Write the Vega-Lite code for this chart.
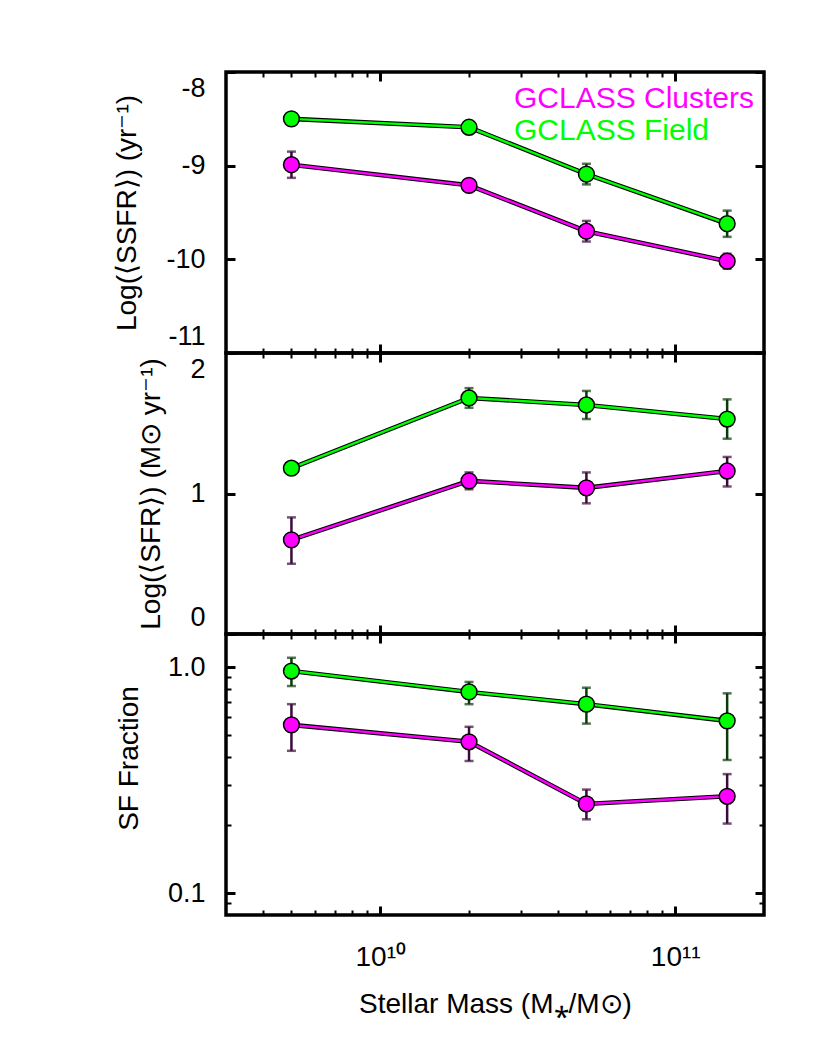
{
  "$schema": "https://vega.github.io/schema/vega-lite/v6.json",
  "padding": {"left": 112, "top": 68, "right": 5, "bottom": 5},
  "background": "white",
  "bounds": "flush",
  "datasets": {
    "pts": [
      {"panel": "ssfr", "group": "Clusters", "mass": 5e9, "value": -8.99, "lo": -9.13, "hi": -8.85},
      {"panel": "ssfr", "group": "Clusters", "mass": 2e10, "value": -9.21, "lo": -9.25, "hi": -9.17},
      {"panel": "ssfr", "group": "Clusters", "mass": 5e10, "value": -9.70, "lo": -9.81, "hi": -9.59},
      {"panel": "ssfr", "group": "Clusters", "mass": 1.5e11, "value": -10.02, "lo": -10.10, "hi": -9.94},
      {"panel": "ssfr", "group": "Field", "mass": 5e9, "value": -8.50, "lo": -8.53, "hi": -8.47},
      {"panel": "ssfr", "group": "Field", "mass": 2e10, "value": -8.59, "lo": -8.63, "hi": -8.55},
      {"panel": "ssfr", "group": "Field", "mass": 5e10, "value": -9.09, "lo": -9.20, "hi": -8.98},
      {"panel": "ssfr", "group": "Field", "mass": 1.5e11, "value": -9.62, "lo": -9.76, "hi": -9.48},
      {"panel": "sfr", "group": "Clusters", "mass": 5e9, "value": 0.67, "lo": 0.50, "hi": 0.83},
      {"panel": "sfr", "group": "Clusters", "mass": 2e10, "value": 1.09, "lo": 1.03, "hi": 1.15},
      {"panel": "sfr", "group": "Clusters", "mass": 5e10, "value": 1.04, "lo": 0.93, "hi": 1.15},
      {"panel": "sfr", "group": "Clusters", "mass": 1.5e11, "value": 1.16, "lo": 1.05, "hi": 1.26},
      {"panel": "sfr", "group": "Field", "mass": 5e9, "value": 1.18, "lo": 1.15, "hi": 1.21},
      {"panel": "sfr", "group": "Field", "mass": 2e10, "value": 1.68, "lo": 1.61, "hi": 1.75},
      {"panel": "sfr", "group": "Field", "mass": 5e10, "value": 1.63, "lo": 1.53, "hi": 1.73},
      {"panel": "sfr", "group": "Field", "mass": 1.5e11, "value": 1.53, "lo": 1.39, "hi": 1.67},
      {"panel": "frac", "group": "Clusters", "mass": 5e9, "value": 0.555, "lo": 0.426, "hi": 0.685},
      {"panel": "frac", "group": "Clusters", "mass": 2e10, "value": 0.467, "lo": 0.384, "hi": 0.544},
      {"panel": "frac", "group": "Clusters", "mass": 5e10, "value": 0.248, "lo": 0.212, "hi": 0.287},
      {"panel": "frac", "group": "Clusters", "mass": 1.5e11, "value": 0.268, "lo": 0.203, "hi": 0.336},
      {"panel": "frac", "group": "Field", "mass": 5e9, "value": 0.96, "lo": 0.824, "hi": 1.099},
      {"panel": "frac", "group": "Field", "mass": 2e10, "value": 0.776, "lo": 0.685, "hi": 0.859},
      {"panel": "frac", "group": "Field", "mass": 5e10, "value": 0.685, "lo": 0.562, "hi": 0.81},
      {"panel": "frac", "group": "Field", "mass": 1.5e11, "value": 0.578, "lo": 0.388, "hi": 0.765}
    ],
    "leg": [
      {"panel": "ssfr", "group": "Clusters", "label": "GCLASS Clusters", "mass": 2.84e10, "value": -8.38},
      {"panel": "ssfr", "group": "Field", "label": "GCLASS Field", "mass": 2.84e10, "value": -8.73}
    ]
  },
  "config": {
    "view": {"stroke": "black", "strokeWidth": 3.5},
    "font": "Liberation Sans",
    "axis": {
      "domain": false, "grid": false,
      "labelFont": "Liberation Sans", "labelFontSize": 27, "labelColor": "black",
      "titleFont": "Liberation Sans", "titleFontSize": 28, "titleFontWeight": "normal", "titleColor": "black",
      "tickColor": "black", "tickWidth": 3, "tickSize": 9, "offset": -9, "labelPadding": 21, "titlePadding": 24
    }
  },
  "spacing": 0,
  "vconcat": [
    {
      "width": 538, "height": 281,
      "data": {"name": "pts"},
      "transform": [{"filter": "datum.panel == 'ssfr'"}],
      "layer": [
        {
          "mark": {"type": "rule", "strokeWidth": 2.5},
          "encoding": {
            "x": {"field": "mass", "type": "quantitative", "scale": {"type": "log", "domain": [3e9, 2e11], "nice": false},
                  "axis": {"orient": "bottom", "values": [1e10, 1e11], "labels": false, "title": null}},
            "y": {"field": "lo", "type": "quantitative", "scale": {"domain": [-11, -8], "nice": false},
                  "axis": {"orient": "left", "values": [-11, -10, -9, -8], "labelFlush": true, "labelFlushOffset": -3, "labelExpr": "'' + datum.value", "title": "Log(⟨SSFR⟩) (yr⁻¹)"}},
            "y2": {"field": "hi"},
            "stroke": {"field": "group", "type": "nominal", "scale": {"domain": ["Clusters", "Field"], "range": ["#3a0a3a", "#0a3a0a"]}, "legend": null}
          }
        },
        {
          "mark": {"type": "tick", "orient": "horizontal", "size": 9, "thickness": 2.5},
          "encoding": {
            "x": {"field": "mass", "type": "quantitative",
                  "axis": {"orient": "bottom", "values": [4e9, 5e9, 6e9, 7e9, 8e9, 9e9, 2e10, 3e10, 4e10, 5e10, 6e10, 7e10, 8e10, 9e10], "tickSize": 5, "offset": -5, "tickWidth": 2, "labels": false, "title": null}},
            "y": {"field": "lo", "type": "quantitative", "axis": null},
            "color": {"field": "group", "type": "nominal", "scale": {"domain": ["Clusters", "Field"], "range": ["#3a0a3a", "#0a3a0a"]}, "legend": null}
          }
        },
        {
          "mark": {"type": "tick", "orient": "horizontal", "size": 9, "thickness": 2.5},
          "encoding": {
            "x": {"field": "mass", "type": "quantitative",
                  "axis": {"orient": "top", "values": [1e10, 1e11], "labels": false, "title": null}},
            "y": {"field": "hi", "type": "quantitative",
                  "axis": {"orient": "right", "values": [-11, -10, -9, -8], "labels": false, "title": null}},
            "color": {"field": "group", "type": "nominal", "scale": {"domain": ["Clusters", "Field"], "range": ["#3a0a3a", "#0a3a0a"]}, "legend": null}
          }
        },
        {
          "mark": {"type": "line", "strokeWidth": 4.6, "color": "black"},
          "encoding": {
            "x": {"field": "mass", "type": "quantitative",
                  "axis": {"orient": "top", "values": [4e9, 5e9, 6e9, 7e9, 8e9, 9e9, 2e10, 3e10, 4e10, 5e10, 6e10, 7e10, 8e10, 9e10], "tickSize": 5, "offset": -5, "tickWidth": 2, "labels": false, "title": null}},
            "y": {"field": "value", "type": "quantitative", "axis": null},
            "detail": {"field": "group"}
          }
        },
        {
          "mark": {"type": "line", "strokeWidth": 2.4},
          "encoding": {
            "x": {"field": "mass", "type": "quantitative", "axis": null},
            "y": {"field": "value", "type": "quantitative", "axis": null},
            "color": {"field": "group", "type": "nominal", "scale": {"domain": ["Clusters", "Field"], "range": ["#ff00ff", "#00ff00"]}, "legend": null}
          }
        },
        {
          "mark": {"type": "point", "shape": "circle", "filled": true, "size": 250, "stroke": "black", "strokeWidth": 1.5, "opacity": 1},
          "encoding": {
            "x": {"field": "mass", "type": "quantitative", "axis": null},
            "y": {"field": "value", "type": "quantitative", "axis": null},
            "fill": {"field": "group", "type": "nominal", "scale": {"domain": ["Clusters", "Field"], "range": ["#ff00ff", "#00ff00"]}, "legend": null}
          }
        },
        {
          "data": {"name": "leg"},
          "mark": {"type": "text", "fontSize": 30, "align": "left", "baseline": "alphabetic", "font": "Liberation Sans"},
          "encoding": {
            "x": {"field": "mass", "type": "quantitative", "axis": null},
            "y": {"field": "value", "type": "quantitative", "axis": null},
            "text": {"field": "label"},
            "fill": {"field": "group", "type": "nominal", "legend": null}
          }
        }
      ],
      "resolve": {"axis": {"x": "independent", "y": "independent"}, "scale": {"color": "independent"}}
    },
    {
      "width": 538, "height": 281,
      "data": {"name": "pts"},
      "transform": [{"filter": "datum.panel == 'sfr'"}],
      "layer": [
        {
          "mark": {"type": "rule", "strokeWidth": 2.5},
          "encoding": {
            "x": {"field": "mass", "type": "quantitative", "scale": {"type": "log", "domain": [3e9, 2e11], "nice": false},
                  "axis": {"orient": "bottom", "values": [1e10, 1e11], "labels": false, "title": null}},
            "y": {"field": "lo", "type": "quantitative", "scale": {"domain": [0, 2], "nice": false},
                  "axis": {"orient": "left", "values": [0, 1, 2], "labelFlush": true, "labelFlushOffset": -3, "labelExpr": "'' + datum.value", "title": "Log(⟨SFR⟩) (M⊙ yr⁻¹)"}},
            "y2": {"field": "hi"},
            "stroke": {"field": "group", "type": "nominal", "legend": null}
          }
        },
        {
          "mark": {"type": "tick", "orient": "horizontal", "size": 9, "thickness": 2.5},
          "encoding": {
            "x": {"field": "mass", "type": "quantitative",
                  "axis": {"orient": "bottom", "values": [4e9, 5e9, 6e9, 7e9, 8e9, 9e9, 2e10, 3e10, 4e10, 5e10, 6e10, 7e10, 8e10, 9e10], "tickSize": 5, "offset": -5, "tickWidth": 2, "labels": false, "title": null}},
            "y": {"field": "lo", "type": "quantitative", "axis": null},
            "color": {"field": "group", "type": "nominal", "scale": {"domain": ["Clusters", "Field"], "range": ["#3a0a3a", "#0a3a0a"]}, "legend": null}
          }
        },
        {
          "mark": {"type": "tick", "orient": "horizontal", "size": 9, "thickness": 2.5},
          "encoding": {
            "x": {"field": "mass", "type": "quantitative",
                  "axis": {"orient": "top", "values": [1e10, 1e11], "labels": false, "title": null}},
            "y": {"field": "hi", "type": "quantitative",
                  "axis": {"orient": "right", "values": [0, 1, 2], "labels": false, "title": null}},
            "color": {"field": "group", "type": "nominal", "scale": {"domain": ["Clusters", "Field"], "range": ["#3a0a3a", "#0a3a0a"]}, "legend": null}
          }
        },
        {
          "mark": {"type": "line", "strokeWidth": 4.6, "color": "black"},
          "encoding": {
            "x": {"field": "mass", "type": "quantitative",
                  "axis": {"orient": "top", "values": [4e9, 5e9, 6e9, 7e9, 8e9, 9e9, 2e10, 3e10, 4e10, 5e10, 6e10, 7e10, 8e10, 9e10], "tickSize": 5, "offset": -5, "tickWidth": 2, "labels": false, "title": null}},
            "y": {"field": "value", "type": "quantitative", "axis": null},
            "detail": {"field": "group"}
          }
        },
        {
          "mark": {"type": "line", "strokeWidth": 2.4},
          "encoding": {
            "x": {"field": "mass", "type": "quantitative", "axis": null},
            "y": {"field": "value", "type": "quantitative", "axis": null},
            "color": {"field": "group", "type": "nominal", "scale": {"domain": ["Clusters", "Field"], "range": ["#ff00ff", "#00ff00"]}, "legend": null}
          }
        },
        {
          "mark": {"type": "point", "shape": "circle", "filled": true, "size": 250, "stroke": "black", "strokeWidth": 1.5, "opacity": 1},
          "encoding": {
            "x": {"field": "mass", "type": "quantitative", "axis": null},
            "y": {"field": "value", "type": "quantitative", "axis": null},
            "fill": {"field": "group", "type": "nominal", "legend": null}
          }
        }
      ],
      "resolve": {"axis": {"x": "independent", "y": "independent"}, "scale": {"color": "independent"}}
    },
    {
      "width": 538, "height": 281,
      "data": {"name": "pts"},
      "transform": [{"filter": "datum.panel == 'frac'"}],
      "layer": [
        {
          "mark": {"type": "rule", "strokeWidth": 2.5},
          "encoding": {
            "x": {"field": "mass", "type": "quantitative", "scale": {"type": "log", "domain": [3e9, 2e11], "nice": false},
                  "axis": {"orient": "bottom", "values": [1e10, 1e11], "labelPadding": 28, "labelFontSize": 28, "labelExpr": "datum.value < 5e10 ? '10¹⁰' : '10¹¹'", "title": "Stellar Mass (M⁎/M⊙)", "titlePadding": 19}},
            "y": {"field": "lo", "type": "quantitative", "scale": {"type": "log", "domain": [0.08, 1.4], "nice": false},
                  "axis": {"orient": "left", "values": [0.1, 1], "labelExpr": "datum.value > 0.5 ? '1.0' : '0.1'", "title": "SF Fraction", "titleY": 124}},
            "y2": {"field": "hi"},
            "stroke": {"field": "group", "type": "nominal", "legend": null}
          }
        },
        {
          "mark": {"type": "tick", "orient": "horizontal", "size": 9, "thickness": 2.5},
          "encoding": {
            "x": {"field": "mass", "type": "quantitative",
                  "axis": {"orient": "bottom", "values": [4e9, 5e9, 6e9, 7e9, 8e9, 9e9, 2e10, 3e10, 4e10, 5e10, 6e10, 7e10, 8e10, 9e10], "tickSize": 5, "offset": -5, "tickWidth": 2, "labels": false, "title": null}},
            "y": {"field": "lo", "type": "quantitative",
                  "axis": {"orient": "left", "values": [0.09, 0.2, 0.3, 0.4, 0.5, 0.6, 0.7, 0.8, 0.9], "tickSize": 5, "offset": -5, "tickWidth": 2, "labels": false, "title": null}},
            "color": {"field": "group", "type": "nominal", "scale": {"domain": ["Clusters", "Field"], "range": ["#3a0a3a", "#0a3a0a"]}, "legend": null}
          }
        },
        {
          "mark": {"type": "tick", "orient": "horizontal", "size": 9, "thickness": 2.5},
          "encoding": {
            "x": {"field": "mass", "type": "quantitative",
                  "axis": {"orient": "top", "values": [1e10, 1e11], "labels": false, "title": null}},
            "y": {"field": "hi", "type": "quantitative",
                  "axis": {"orient": "right", "values": [0.1, 1], "labels": false, "title": null}},
            "color": {"field": "group", "type": "nominal", "scale": {"domain": ["Clusters", "Field"], "range": ["#3a0a3a", "#0a3a0a"]}, "legend": null}
          }
        },
        {
          "mark": {"type": "line", "strokeWidth": 4.6, "color": "black"},
          "encoding": {
            "x": {"field": "mass", "type": "quantitative",
                  "axis": {"orient": "top", "values": [4e9, 5e9, 6e9, 7e9, 8e9, 9e9, 2e10, 3e10, 4e10, 5e10, 6e10, 7e10, 8e10, 9e10], "tickSize": 5, "offset": -5, "tickWidth": 2, "labels": false, "title": null}},
            "y": {"field": "value", "type": "quantitative",
                  "axis": {"orient": "right", "values": [0.09, 0.2, 0.3, 0.4, 0.5, 0.6, 0.7, 0.8, 0.9], "tickSize": 5, "offset": -5, "tickWidth": 2, "labels": false, "title": null}},
            "detail": {"field": "group"}
          }
        },
        {
          "mark": {"type": "line", "strokeWidth": 2.4},
          "encoding": {
            "x": {"field": "mass", "type": "quantitative", "axis": null},
            "y": {"field": "value", "type": "quantitative", "axis": null},
            "color": {"field": "group", "type": "nominal", "scale": {"domain": ["Clusters", "Field"], "range": ["#ff00ff", "#00ff00"]}, "legend": null}
          }
        },
        {
          "mark": {"type": "point", "shape": "circle", "filled": true, "size": 250, "stroke": "black", "strokeWidth": 1.5, "opacity": 1},
          "encoding": {
            "x": {"field": "mass", "type": "quantitative", "axis": null},
            "y": {"field": "value", "type": "quantitative", "axis": null},
            "fill": {"field": "group", "type": "nominal", "legend": null}
          }
        }
      ],
      "resolve": {"axis": {"x": "independent", "y": "independent"}, "scale": {"color": "independent"}}
    }
  ]
}
